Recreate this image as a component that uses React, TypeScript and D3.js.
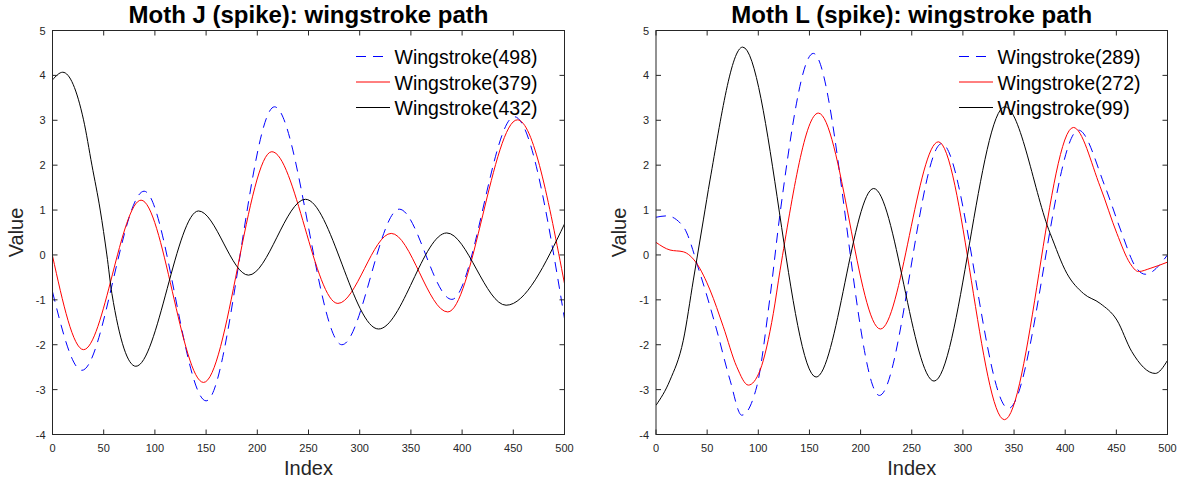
import React from 'react';
import * as d3 from 'd3';

// ---------- data ----------
const xTickValues = [0, 50, 100, 150, 200, 250, 300, 350, 400, 450, 500];
const yTickValues = [-4, -3, -2, -1, 0, 1, 2, 3, 4, 5];

const titleJ = 'Moth J (spike): wingstroke path';
const titleL = 'Moth L (spike): wingstroke path';
const legendJ = ['Wingstroke(498)', 'Wingstroke(379)', 'Wingstroke(432)'];
const legendL = ['Wingstroke(289)', 'Wingstroke(272)', 'Wingstroke(99)'];
const xLabel = 'Index';
const yLabel = 'Value';

// Moth J
const j498Index = [0, 28.7, 89.5, 150, 216.8, 282.6, 338.6, 390, 451, 500];
const j498Value = [-0.82, -2.57, 1.42, -3.25, 3.3, -2.0, 1.02, -0.99, 3.08, -1.42];

const j379Index = [0, 30.3, 86.5, 147.5, 214.2, 278.7, 330.8, 386, 454, 500];
const j379Value = [-0.02, -2.11, 1.22, -2.84, 2.3, -1.08, 0.48, -1.27, 3.01, -0.64];

const j432Index = [0, 10, 30.3, 38.5, 46.6, 53.1, 58, 81.4, 142.6, 191.4, 247, 318.4, 385, 443, 500];
const j432Value = [3.9, 4.07, 3.01, 2.0, 1.0, 0.0, -0.86, -2.48, 0.98, -0.45, 1.24, -1.65, 0.49, -1.12, 0.69];

// Moth L
const l289Index = [0, 10.4, 26.7, 43, 59.3, 72.4, 83.8, 98.4, 111.5, 121.3, 153.8, 218.4, 279.3, 344.5, 413, 439, 455.4, 468.4, 478.2, 500];
const l289Value = [0.84, 0.87, 0.63, -0.41, -1.67, -2.79, -3.57, -2.94, -0.93, 0.93, 4.49, -3.13, 2.48, -3.42, 2.78, 1.52, 0.48, -0.25, -0.43, 0.0];

const l272Index = [0, 13.7, 26.7, 39.8, 52.8, 65.8, 78.9, 90.3, 101.7, 114.7, 121.3, 158.7, 219.4, 276, 340.6, 408, 434.2, 450.5, 463.5, 471.6, 483, 500];
const l272Value = [0.28, 0.11, 0.07, -0.19, -0.78, -1.6, -2.49, -2.9, -2.57, -1.3, -0.34, 3.16, -1.65, 2.52, -3.67, 2.84, 1.52, 0.48, -0.19, -0.37, -0.3, -0.16];

const l99Index = [0, 13.7, 26.7, 36.5, 46.3, 52.8, 84.7, 156.5, 212.8, 271.8, 341, 385.3, 401.6, 417.9, 434.2, 450.5, 465, 488, 500];
const l99Value = [-3.35, -2.79, -1.9, -0.56, 0.78, 1.67, 4.63, -2.72, 1.48, -2.81, 3.3, 0.48, -0.41, -0.86, -1.08, -1.45, -2.15, -2.64, -2.35];

// ---------- layout ----------
const W = 1189;
const H = 483;
const TOP = 30.5;
const BOTTOM = 434.5;
const FONT = '"Liberation Sans", Arial, Helvetica, sans-serif';
const AXIS_COLOR = '#262626';

type Series = { idx: number[]; val: number[]; color: string; dash?: string };

function Panel(props: { x0: number; x1: number; title: string; legend: string[]; series: Series[]; legendX: number }) {
  const { x0, x1, title, legend, series, legendX } = props;
  const x = d3.scaleLinear().domain([0, 500]).range([x0, x1]);
  const y = d3.scaleLinear().domain([-4, 5]).range([BOTTOM, TOP]);
  const line = d3
    .line<[number, number]>()
    .x((d) => x(d[0]))
    .y((d) => y(d[1]))
    .curve(d3.curveMonotoneX);
  const cx = (x0 + x1) / 2;
  const cy = (TOP + BOTTOM) / 2;
  const tick = 5;
  return (
    <g>
      <defs>
        <clipPath id={'clip' + Math.round(x0)}>
          <rect x={x0} y={TOP} width={x1 - x0} height={BOTTOM - TOP} />
        </clipPath>
      </defs>
      <g clipPath={`url(#clip${Math.round(x0)})`}>
        {series.map((s, i) => (
          <path
            key={i}
            d={line(s.idx.map((v, k) => [v, s.val[k]] as [number, number])) || ''}
            fill="none"
            stroke={s.color}
            strokeWidth={1}
            strokeDasharray={s.dash}
          />
        ))}
      </g>
      {/* box */}
      <rect x={x0} y={TOP} width={x1 - x0} height={BOTTOM - TOP} fill="none" stroke={AXIS_COLOR} strokeWidth={1} />
      {xTickValues.map((t) => (
        <g key={'x' + t}>
          <line x1={x(t)} x2={x(t)} y1={BOTTOM} y2={BOTTOM - tick} stroke={AXIS_COLOR} />
          <line x1={x(t)} x2={x(t)} y1={TOP} y2={TOP + tick} stroke={AXIS_COLOR} />
          <text x={x(t)} y={BOTTOM + 17} textAnchor="middle" fontSize={11} fontFamily={FONT} fill={AXIS_COLOR}>
            {t}
          </text>
        </g>
      ))}
      {yTickValues.map((t) => (
        <g key={'y' + t}>
          <line x1={x0} x2={x0 + tick} y1={y(t)} y2={y(t)} stroke={AXIS_COLOR} />
          <line x1={x1} x2={x1 - tick} y1={y(t)} y2={y(t)} stroke={AXIS_COLOR} />
          <text x={x0 - 7} y={y(t) + 4} textAnchor="end" fontSize={11} fontFamily={FONT} fill={AXIS_COLOR}>
            {t}
          </text>
        </g>
      ))}
      <text x={cx} y={22.5} textAnchor="middle" fontSize={24} fontWeight="bold" fontFamily={FONT} fill="#000">
        {title}
      </text>
      <text x={cx} y={475} textAnchor="middle" fontSize={20} fontFamily={FONT} fill={AXIS_COLOR}>
        {xLabel}
      </text>
      <text
        transform={`translate(${x0 - 30},${cy}) rotate(-90)`}
        textAnchor="middle"
        fontSize={20}
        fontFamily={FONT}
        fill={AXIS_COLOR}
      >
        {yLabel}
      </text>
      {legend.map((name, i) => {
        const by = 64 + i * 25.5;
        const s = series[i];
        return (
          <g key={'l' + i}>
            <line
              x1={legendX}
              x2={legendX + 34}
              y1={by - 7.5}
              y2={by - 7.5}
              stroke={s.color}
              strokeWidth={1}
              strokeDasharray={s.dash}
            />
            <text x={legendX + 38.5} y={by} fontSize={19.5} fontFamily={FONT} fill="#000">
              {name}
            </text>
          </g>
        );
      })}
    </g>
  );
}

export default function App() {
  const blue = '#0000ff';
  const red = '#ff0000';
  const black = '#000000';
  const dash = '10,7';
  const seriesJ: Series[] = [
    { idx: j498Index, val: j498Value, color: blue, dash },
    { idx: j379Index, val: j379Value, color: red },
    { idx: j432Index, val: j432Value, color: black },
  ];
  const seriesL: Series[] = [
    { idx: l289Index, val: l289Value, color: blue, dash },
    { idx: l272Index, val: l272Value, color: red },
    { idx: l99Index, val: l99Value, color: black },
  ];
  return (
    <svg
      width={W}
      height={H}
      viewBox={`0 0 ${W} ${H}`}
      style={{ position: 'absolute', left: 0, top: 0, background: '#fff' }}
    >
      <rect x={0} y={0} width={W} height={H} fill="#fff" />
      <Panel x0={52.5} x1={564.5} title={titleJ} legend={legendJ} series={seriesJ} legendX={356} />
      <Panel x0={656} x1={1167.5} title={titleL} legend={legendL} series={seriesL} legendX={959} />
    </svg>
  );
}
